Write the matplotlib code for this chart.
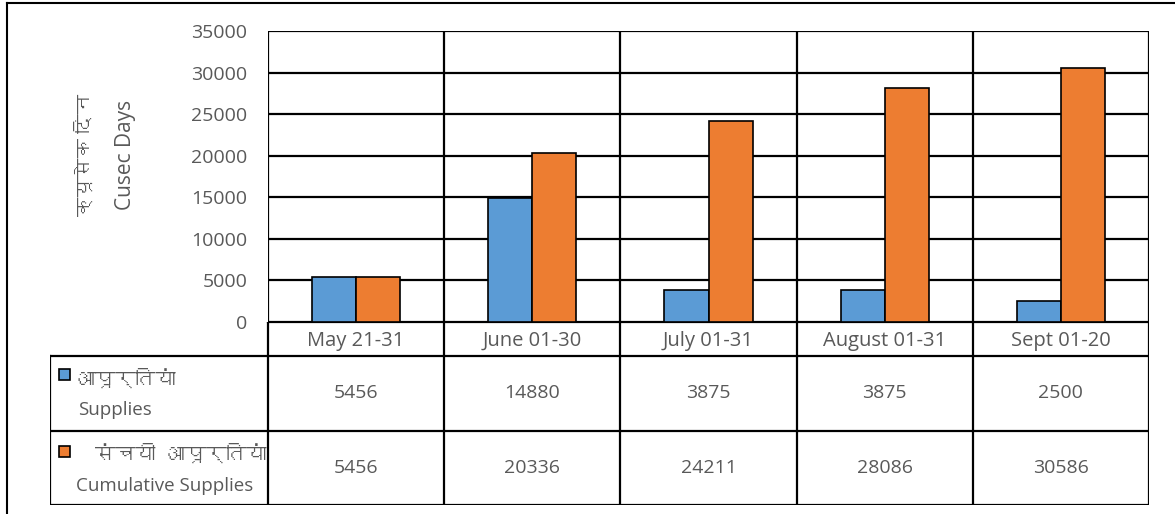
import matplotlib
matplotlib.use("Agg")
import matplotlib.pyplot as plt
from matplotlib import font_manager as fm
from matplotlib.patches import Rectangle
import numpy as np

categories = ["May 21-31", "June 01-30", "July 01-31", "August 01-31", "Sept 01-20"]
supplies = [5456, 14880, 3875, 3875, 2500]
cumulative = [5456, 20336, 24211, 28086, 30586]
y_ticks = [0, 5000, 10000, 15000, 20000, 25000, 30000, 35000]

blue = "#5B9BD5"
orange = "#ED7D31"
grey = "#595959"

# look for a font that has devanagari glyphs
deva = None
try:
    from fontTools.ttLib import TTFont
    for f in fm.fontManager.ttflist:
        try:
            cmap = TTFont(f.fname, fontNumber=0, lazy=True).getBestCmap()
            if cmap and 0x0915 in cmap:
                deva = f.name
                break
        except Exception:
            pass
except Exception:
    pass

fam = ["Open Sans"]
if deva:
    fam.append(deva)
fam.append("DejaVu Sans")
plt.rcParams["font.family"] = fam

W, H = 1175, 514
fig = plt.figure(figsize=(W / 100, H / 100), dpi=100)

def fx(px):
    return px / W

def fy(py):
    return 1 - py / H

fs = 14

# main plot area
L, R, T, B = 268, 1149, 31, 322
ax = fig.add_axes([fx(L), fy(B), fx(R - L), fy(T) - fy(B)])
x = np.arange(len(categories))
w = 0.25
ax.bar(x - w / 2, supplies, w, color=blue, edgecolor="black", linewidth=1.2, zorder=3)
ax.bar(x + w / 2, cumulative, w, color=orange, edgecolor="black", linewidth=1.2, zorder=3)
ax.set_xlim(-0.5, len(categories) - 0.5)
ax.set_ylim(0, 35000)
ax.set_yticks(y_ticks)
ax.set_yticklabels([str(v) for v in y_ticks], fontsize=fs, color=grey)
ax.tick_params(axis="y", length=0, pad=15)
ax.set_xticks([])
for v in y_ticks:
    ax.axhline(v, color="black", lw=1.6, zorder=1)
for b in np.arange(-0.5, len(categories), 1.0):
    ax.axvline(b, color="black", lw=1.6, zorder=1)
for s in ax.spines.values():
    s.set_visible(False)

# y label, two lines
fig.text(fx(85), fy(155), "क्यूसेक दिन", rotation=90, ha="center", va="center",
         fontsize=14, color=grey)
fig.text(fx(125), fy(155), "Cusec Days", rotation=90, ha="center", va="center",
         fontsize=15, color=grey)

# data table under the chart
TL, TB = 50, 505
rows_px = [322, 356, 431, 505]
tax = fig.add_axes([fx(TL), fy(TB), fx(R - TL), fy(B) - fy(TB)])
unit = (R - L) / len(categories)
tax.set_xlim(-0.5 - (L - TL) / unit, len(categories) - 0.5)
tax.set_ylim(TB - B, 0)
tax.axis("off")
lw = 1.6
x0 = tax.get_xlim()[0]
# horizontal lines
tax.plot([-0.5, len(categories) - 0.5], [0, 0], color="black", lw=lw)
for r in rows_px[1:]:
    tax.plot([x0, len(categories) - 0.5], [r - B, r - B], color="black", lw=lw)
# vertical lines
for b in np.arange(-0.5, len(categories), 1.0):
    tax.plot([b, b], [0, TB - B], color="black", lw=lw)
tax.plot([x0, x0], [rows_px[1] - B, TB - B], color="black", lw=lw)

hdr_y = (rows_px[0] + rows_px[1]) / 2 - B
r1_y = (rows_px[1] + rows_px[2]) / 2 - B
r2_y = (rows_px[2] + rows_px[3]) / 2 - B
for i, c in enumerate(categories):
    tax.text(i, hdr_y + 2, c, ha="center", va="center", fontsize=fs + 0.5, color=grey)
    tax.text(i, r1_y, str(supplies[i]), ha="center", va="center", fontsize=fs, color=grey)
    tax.text(i, r2_y, str(cumulative[i]), ha="center", va="center", fontsize=fs, color=grey)

# legend keys and row labels
def px2t(p):
    return x0 + (p - TL) / unit

key_w = 11 / unit
tax.add_patch(Rectangle((px2t(59), 369 - B), key_w, 11, facecolor=blue, edgecolor="black", lw=1.2))
tax.add_patch(Rectangle((px2t(59), 446 - B), key_w, 11, facecolor=orange, edgecolor="black", lw=1.2))
tax.text(px2t(75), 381 - B, "आपूर्तियां", ha="left", va="center", fontsize=14.5, color=grey)
tax.text(px2t(78), 410 - B, "Supplies", ha="left", va="center", fontsize=13.5, color=grey)
tax.text(px2t(95), 456 - B, "संचयी  आपूर्तियां", ha="left", va="center", fontsize=14.5, color=grey)
tax.text(px2t(76), 486 - B, "Cumulative Supplies", ha="left", va="center", fontsize=13.5, color=grey)

# outer frame (left and top edges visible)
fig.add_artist(plt.Line2D([fx(7), fx(7)], [0, fy(3)], color="black", lw=1.5))
fig.add_artist(plt.Line2D([fx(7), 1], [fy(3), fy(3)], color="black", lw=1.5))

fig.savefig("out.png", dpi=100)
